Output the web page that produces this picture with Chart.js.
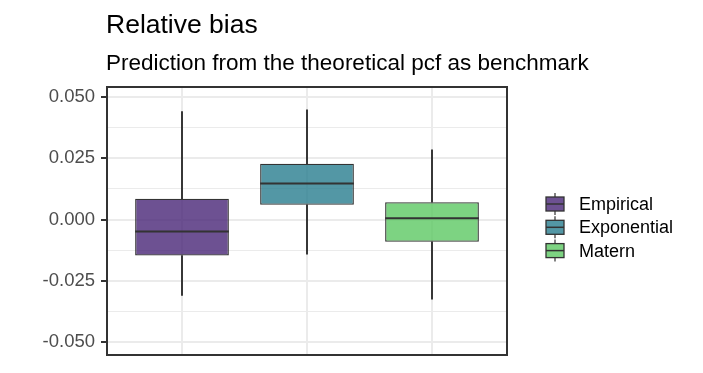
<!DOCTYPE html>
<html><head><meta charset="utf-8">
<script src="https://cdn.jsdelivr.net/npm/chart.js@4/dist/chart.umd.min.js"></script>
<style>html,body{margin:0;padding:0;background:#fff}#wrap{width:703px;height:373px}</style>
</head><body><div id="wrap"><canvas id="c" width="703" height="373"></canvas></div>
<script>
// ---- data ----
const categories = ['Empirical', 'Exponential', 'Matern'];
const whiskerLow  = [-0.0310, -0.0142, -0.0326];
const q1          = [-0.0147,  0.0060, -0.0091];
const medians     = [-0.0049,  0.0147,  0.0005];
const q3          = [ 0.0085,  0.0228,  0.0071];
const whiskerHigh = [ 0.0441,  0.0449,  0.0285];
const yTicks = [-0.05, -0.025, 0, 0.025, 0.05];
const yMinor = [-0.0375, -0.0125, 0.0125, 0.0375];
const titleText = 'Relative bias';
const subtitleText = 'Prediction from the theoretical pcf as benchmark';

// ---- styles ----
const fills = ['rgba(72,38,119,0.8)', 'rgba(40,125,142,0.8)', 'rgba(93,200,99,0.8)'];
const FONT = '"Liberation Sans", Arial, sans-serif';
const DARK = '#333333';
const isMajor = v => yTicks.some(t => Math.abs(t - v) < 1e-9);

const xPos = categories.map((c, i) => i + 1);

const titlePlugin = {
  id: 'ggTitles',
  afterDraw(chart) {
    const ctx = chart.ctx;
    ctx.save();
    ctx.fillStyle = '#000';
    ctx.textAlign = 'left';
    ctx.textBaseline = 'alphabetic';
    ctx.font = '26.5px ' + FONT;
    ctx.fillText(titleText, chart.chartArea.left - 1, 33);
    ctx.font = '22.5px ' + FONT;
    ctx.fillText(subtitleText, chart.chartArea.left - 1, 70);
    ctx.restore();
  }
};

const medianPlugin = {
  id: 'medians',
  afterDatasetsDraw(chart) {
    const meta = chart.getDatasetMeta(2);
    const y = chart.scales.y;
    const ctx = chart.ctx;
    ctx.save();
    ctx.strokeStyle = DARK;
    ctx.lineWidth = 2;
    meta.data.forEach((el, i) => {
      const py = y.getPixelForValue(medians[i]);
      ctx.beginPath();
      ctx.moveTo(el.x - el.width / 2, py);
      ctx.lineTo(el.x + el.width / 2, py);
      ctx.stroke();
    });
    ctx.restore();
  }
};

const borderPlugin = {
  id: 'panelBorder',
  afterDraw(chart) {
    const a = chart.chartArea;
    const ctx = chart.ctx;
    ctx.save();
    ctx.strokeStyle = DARK;
    ctx.lineWidth = 2;
    ctx.strokeRect(a.left, a.top, a.right - a.left, a.bottom - a.top);
    ctx.restore();
  }
};

const legendPlugin = {
  id: 'ggLegend',
  afterDraw(chart) {
    const ctx = chart.ctx;
    ctx.save();
    const cx = 555, top0 = 204, step = 23.3;
    categories.forEach((name, i) => {
      const cy = top0 + i * step;
      ctx.strokeStyle = DARK;
      ctx.lineWidth = 1.2;
      ctx.beginPath();
      ctx.moveTo(cx, cy - 11); ctx.lineTo(cx, cy - 7);
      ctx.moveTo(cx, cy + 7); ctx.lineTo(cx, cy + 11);
      ctx.stroke();
      ctx.fillStyle = fills[i];
      ctx.fillRect(cx - 9, cy - 7, 18, 14);
      ctx.lineWidth = 1.3;
      ctx.strokeRect(cx - 9, cy - 7, 18, 14);
      ctx.lineWidth = 1.5;
      ctx.beginPath();
      ctx.moveTo(cx - 9, cy); ctx.lineTo(cx + 9, cy);
      ctx.stroke();
      ctx.fillStyle = '#000';
      ctx.font = '18px ' + FONT;
      ctx.textAlign = 'left';
      ctx.textBaseline = 'middle';
      ctx.fillText(name, 579, cy + 1);
    });
    ctx.restore();
  }
};

new Chart(document.getElementById('c'), {
  type: 'bar',
  data: {
    datasets: [
      {
        label: 'lower whisker',
        data: xPos.map((x, i) => ({ x, y: [whiskerLow[i], q1[i]] })),
        backgroundColor: DARK,
        barThickness: 1.3,
        grouped: false
      },
      {
        label: 'upper whisker',
        data: xPos.map((x, i) => ({ x, y: [q3[i], whiskerHigh[i]] })),
        backgroundColor: DARK,
        barThickness: 1.3,
        grouped: false
      },
      {
        label: 'box',
        data: xPos.map((x, i) => ({ x, y: [q1[i], q3[i]] })),
        backgroundColor: fills,
        borderColor: DARK,
        borderWidth: 1.3,
        borderSkipped: false,
        barPercentage: 0.75,
        categoryPercentage: 1,
        grouped: false
      }
    ]
  },
  options: {
    responsive: false,
    animation: false,
    devicePixelRatio: 1,
    layout: { padding: { top: 87, right: 196, bottom: 18, left: 0 } },
    plugins: { legend: { display: false }, tooltip: { enabled: false }, title: { display: false } },
    scales: {
      x: {
        type: 'linear',
        min: 0.4,
        max: 3.6,
        offset: false,
        afterBuildTicks(scale) { scale.ticks = xPos.map(v => ({ value: v })); },
        afterFit(scale) { scale.height = 0; },
        ticks: { display: false },
        grid: { color: '#ebebeb', lineWidth: 2, drawTicks: false, offset: false },
        border: { display: false }
      },
      y: {
        min: -0.0554,
        max: 0.0542,
        afterBuildTicks(scale) {
          scale.ticks = yTicks.concat(yMinor).sort((a, b) => a - b).map(v => ({ value: v }));
        },
        afterFit(scale) { scale.width = 107; },
        ticks: {
          font: { family: FONT, size: 18.5 },
          color: '#4d4d4d',
          padding: 6,
          callback: v => isMajor(v) ? v.toFixed(3) : ''
        },
        grid: {
          color: '#ebebeb',
          lineWidth: c => (c.tick && isMajor(c.tick.value)) ? 2 : 1,
          tickColor: c => (c.tick && isMajor(c.tick.value)) ? DARK : 'rgba(0,0,0,0)',
          tickWidth: 2,
          tickLength: 6
        },
        border: { display: false }
      }
    }
  },
  plugins: [medianPlugin, borderPlugin, titlePlugin, legendPlugin]
});
</script>
</body></html>
